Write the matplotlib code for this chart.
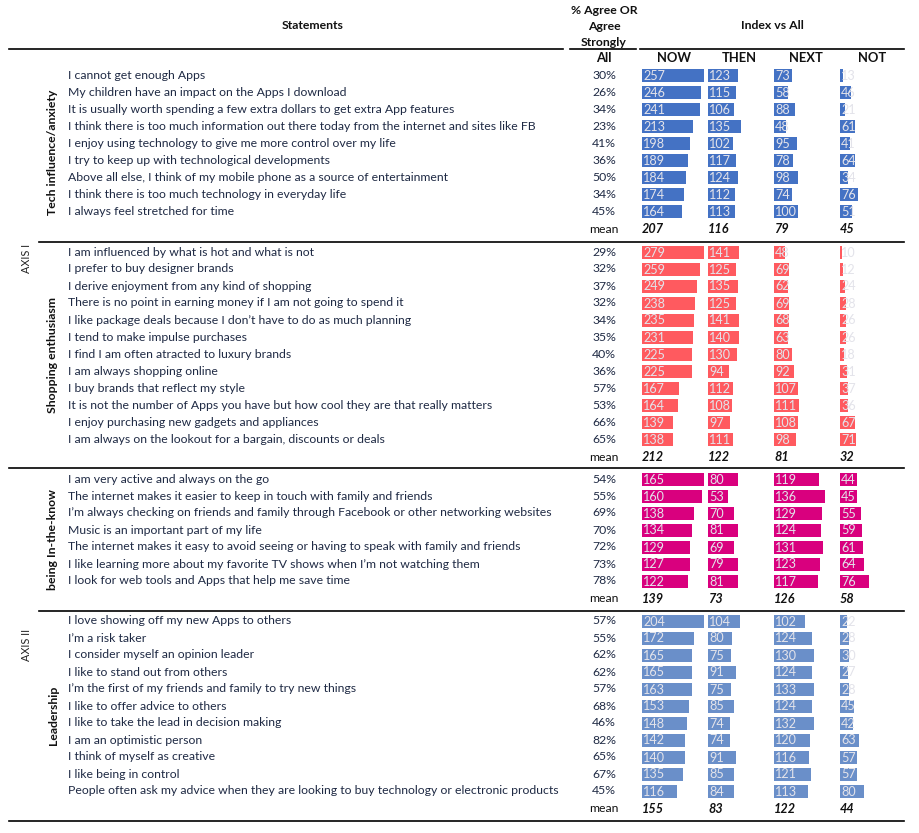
import matplotlib.pyplot as plt
from matplotlib.patches import Rectangle

plt.rcParams['font.family'] = ['Lato', 'DejaVu Sans']

# ---- data ----
columns = ["NOW", "THEN", "NEXT", "NOT"]

tech_names = [
    "I cannot get enough Apps",
    "My children have an impact on the Apps I download",
    "It is usually worth spending a few extra dollars to get extra App features",
    "I think there is too much information out there today from the internet and sites like FB",
    "I enjoy using technology to give me more control over my life",
    "I try to keep up with technological developments",
    "Above all else, I think of my mobile phone as a source of entertainment",
    "I think there is too much technology in everyday life",
    "I always feel stretched for time",
]
tech_all = [30, 26, 34, 23, 41, 36, 50, 34, 45]
tech_now = [257, 246, 241, 213, 198, 189, 184, 174, 164]
tech_then = [123, 115, 106, 135, 102, 117, 124, 112, 113]
tech_next = [73, 58, 88, 48, 95, 78, 98, 74, 100]
tech_not = [13, 46, 21, 61, 41, 64, 34, 76, 51]
tech_mean = [207, 116, 79, 45]

shop_names = [
    "I am influenced by what is hot and what is not",
    "I prefer to buy designer brands",
    "I derive enjoyment from any kind of shopping",
    "There is no point in earning money if I am not going to spend it",
    "I like package deals because I don\u2019t have to do as much planning",
    "I tend to make impulse purchases",
    "I find I am often atracted to luxury brands",
    "I am always shopping online",
    "I buy brands that reflect my style",
    "It is not the number of Apps you have but how cool they are that really matters",
    "I enjoy purchasing new gadgets and appliances",
    "I am always on the lookout for a bargain, discounts or deals",
]
shop_all = [29, 32, 37, 32, 34, 35, 40, 36, 57, 53, 66, 65]
shop_now = [279, 259, 249, 238, 235, 231, 225, 225, 167, 164, 139, 138]
shop_then = [141, 125, 135, 125, 141, 140, 130, 94, 112, 108, 97, 111]
shop_next = [48, 69, 62, 69, 68, 63, 80, 92, 107, 111, 108, 98]
shop_not = [10, 12, 24, 28, 26, 26, 18, 31, 37, 36, 67, 71]
shop_mean = [212, 122, 81, 32]

know_names = [
    "I am very active and always on the go",
    "The internet makes it easier to keep in touch with family and friends",
    "I\u2019m always checking on friends and family through Facebook or other networking websites",
    "Music is an important part of my life",
    "The internet makes it easy to avoid seeing or having to speak with family and friends",
    "I like learning more about my favorite TV shows when I\u2019m not watching them",
    "I look for web tools and Apps that help me save time",
]
know_all = [54, 55, 69, 70, 72, 73, 78]
know_now = [165, 160, 138, 134, 129, 127, 122]
know_then = [80, 53, 70, 81, 69, 79, 81]
know_next = [119, 136, 129, 124, 131, 123, 117]
know_not = [44, 45, 55, 59, 61, 64, 76]
know_mean = [139, 73, 126, 58]

lead_names = [
    "I love showing off my new Apps to others",
    "I\u2019m a risk taker",
    "I consider myself an opinion leader",
    "I like to stand out from others",
    "I\u2019m the first of my friends and family to try new things",
    "I like to offer advice to others",
    "I like to take the lead in decision making",
    "I am an optimistic person",
    "I think of myself as creative",
    "I like being in control",
    "People often ask my advice when they are looking to buy technology or electronic products",
]
lead_all = [57, 55, 62, 62, 57, 68, 46, 82, 65, 67, 45]
lead_now = [204, 172, 165, 165, 163, 153, 148, 142, 140, 135, 116]
lead_then = [104, 80, 75, 91, 75, 85, 74, 74, 91, 85, 84]
lead_next = [102, 124, 130, 124, 133, 124, 132, 120, 116, 121, 113]
lead_not = [22, 28, 30, 27, 28, 45, 42, 63, 57, 57, 80]
lead_mean = [155, 83, 122, 44]

groups = [
    ("Tech influence/anxiety", tech_names, tech_all,
     [tech_now, tech_then, tech_next, tech_not], tech_mean, "#4472C4"),
    ("Shopping enthusiasm", shop_names, shop_all,
     [shop_now, shop_then, shop_next, shop_not], shop_mean, "#FF5A5F"),
    ("being In-the-know", know_names, know_all,
     [know_now, know_then, know_next, know_not], know_mean, "#D9007E"),
    ("Leadership", lead_names, lead_all,
     [lead_now, lead_then, lead_next, lead_not], lead_mean, "#6A8FC9"),
]

# ---- layout (pixel coordinates) ----
W, H = 919, 833
fig = plt.figure(figsize=(W / 100, H / 100), dpi=100)
ax = fig.add_axes([0, 0, 1, 1])
ax.set_xlim(0, W)
ax.set_ylim(H, 0)
ax.axis("off")

txt = "#1F2A44"
fs = 8.8
row_h = 17
bar_h = 13
bar_w = 62
col_x = [642, 708, 774, 840]
col_c = [674, 739, 806, 872]
all_c = 604
stmt_x = 68

# header
ax.text(313, 25, "Statements", ha="center", va="center", fontsize=fs, weight="bold", color="#111")
for i, s in enumerate(["% Agree OR", "Agree", "Strongly"]):
    ax.text(all_c, 10 + 16 * i, s, ha="center", va="center", fontsize=fs, weight="bold", color="#111")
ax.text(772, 25, "Index vs All", ha="center", va="center", fontsize=fs, weight="bold", color="#111")
ax.plot([9, 563], [49, 49], color="black", lw=1.2)
ax.plot([570, 636], [49, 49], color="black", lw=1.2)
ax.plot([640, 904], [49, 49], color="black", lw=1.2)
ax.text(all_c, 58, "All", ha="center", va="center", fontsize=fs + 0.6, weight="bold", color="#111")
for c, name in zip(col_c, columns):
    ax.text(c, 58, name, ha="center", va="center", fontsize=fs + 0.6, weight="bold", color="#111")

first_rows = [75, 252, 479, 621]
sep_lines = [(39, 242), (9, 468), (39, 611), (9, 821)]

for (label, names, pct, vals, means, color), y0, (lx, ly) in zip(groups, first_rows, sep_lines):
    gmax = max(max(v) for v in vals)
    n = len(names)
    for i in range(n):
        y = y0 + i * row_h
        ax.text(stmt_x, y, names[i], ha="left", va="center", fontsize=fs, color=txt)
        ax.text(all_c, y, f"{pct[i]}%", ha="center", va="center", fontsize=fs, color=txt)
        for j in range(4):
            v = vals[j][i]
            ax.add_patch(Rectangle((col_x[j], y - bar_h / 2), bar_w * v / gmax, bar_h,
                                   facecolor=color, edgecolor="none"))
            ax.text(col_x[j] + 1, y + 0.5, str(v), ha="left", va="center", fontsize=fs + 0.3,
                    color="#E3E3EA")
    ym = y0 + n * row_h + 1
    ax.text(all_c, ym, "mean", ha="center", va="center", fontsize=fs, color="#111")
    for j in range(4):
        ax.text(col_x[j], ym, str(means[j]), ha="left", va="center", fontsize=fs + 0.3,
                weight="bold", style="italic", color="#111")
    ax.text(53, (y0 + ym) / 2, label, ha="center", va="center", rotation=90,
            fontsize=fs, weight="bold", color="#111")
    ax.plot([lx, 904], [ly, ly], color="black", lw=1.2)

ax.text(26, 258, "AXIS I", ha="center", va="center", rotation=90, fontsize=fs - 1, color="#222")
ax.text(26, 645, "AXIS II", ha="center", va="center", rotation=90, fontsize=fs - 1, color="#222")

fig.savefig("out.png", dpi=100)
